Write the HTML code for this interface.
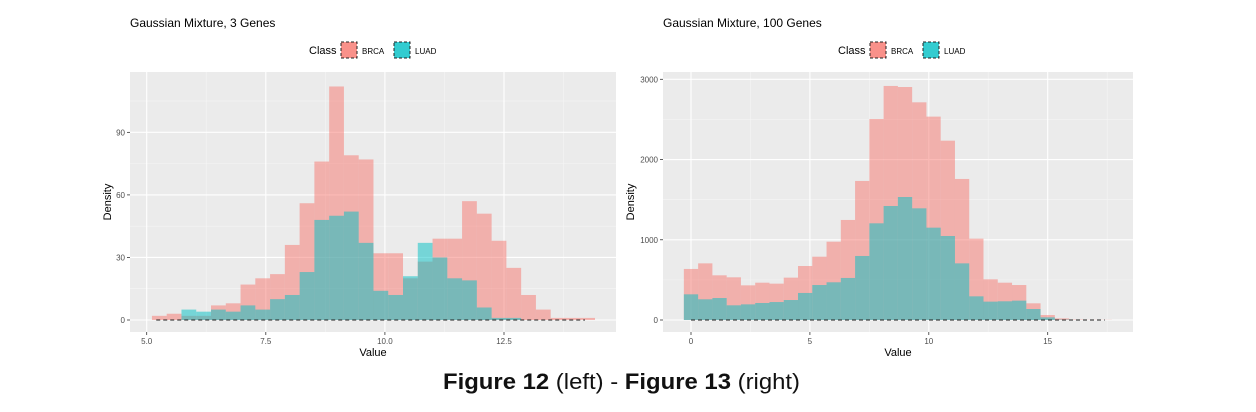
<!DOCTYPE html>
<html><head><meta charset="utf-8"><style>
body{margin:0;background:#fff;width:1256px;height:412px;overflow:hidden;font-family:"Liberation Sans",sans-serif}
svg{position:absolute;left:0;top:0}
</style></head><body>
<svg id="s" width="1256" height="412"></svg>
<script>
// Left panel data (3 genes)
const leftStart = 5.11;
const leftWidth = 0.31;
const leftBRCA = [2,3,2,2,7,8,17,20,22,36,56,76,112,79,77,32,32,20,28,39,39,57,51,38,25,12,5,1,1,1];
const leftLUAD = [0,0,5,4,5,4,7,5,10,12,23,48,50,52,37,14,12,21,37,30,20,19,6,1,1,0,0,0,0,0];
const leftXTicks = [5.0,7.5,10.0,12.5];
const leftXLabels = ["5.0","7.5","10.0","12.5"];
const leftYTicks = [0,30,60,90];
// Right panel data (100 genes)
const rightStart = -0.3;
const rightWidth = 0.6;
const rightBRCA = [636,706,557,532,432,465,453,528,673,789,976,1247,1733,2505,2917,2904,2713,2535,2235,1758,1014,507,465,436,208,62,20,5,2,2];
const rightLUAD = [320,258,274,183,195,212,224,249,337,436,470,524,798,1205,1421,1533,1392,1151,1047,706,295,229,233,241,137,33,5,0,0,0];
const rightXTicks = [0,5,10,15];
const rightXLabels = ["0","5","10","15"];
const rightYTicks = [0,1000,2000,3000];

const NS="http://www.w3.org/2000/svg";
const svg=document.getElementById('s');
function mk(tag,attrs,parent){const e=document.createElementNS(NS,tag);for(const k in attrs)e.setAttribute(k,attrs[k]);(parent||svg).appendChild(e);return e;}

function panel(cfg){
  const g=mk('g',{});
  
  
  const X=v=>cfg.x0+(v-cfg.xv0)*cfg.xs;
  const Y=v=>cfg.y0-v*cfg.ys;
  const bg=mk('rect',{x:cfg.L,y:72,width:cfg.R-cfg.L,height:260,fill:'#EBEBEB'},g);
  
  
  const xt=cfg.xt, yt=cfg.yt;
  const dx=xt[1]-xt[0], dy=yt[1]-yt[0];
  for(let v=xt[0]-dx/2; X(v)<cfg.R; v+=dx){ if(X(v)>cfg.L) mk('line',{x1:X(v),x2:X(v),y1:72,y2:332,stroke:'#F5F5F5','stroke-width':0.6},g); }
  for(let v=yt[0]+dy/2; Y(v)>72; v+=dy){ mk('line',{x1:cfg.L,x2:cfg.R,y1:Y(v),y2:Y(v),stroke:'#F5F5F5','stroke-width':0.6},g); }
  xt.forEach(v=>mk('line',{x1:X(v),x2:X(v),y1:72,y2:332,stroke:'#fff','stroke-width':1.1},g));
  yt.forEach(v=>mk('line',{x1:cfg.L,x2:cfg.R,y1:Y(v),y2:Y(v),stroke:'#fff','stroke-width':1.1},g));
  [[cfg.brca,'#F8766D','brca'],[cfg.luad,'#00BFC4','luad']].forEach(([arr,col,nm])=>{
    arr.forEach((v,i)=>{ if(v<=0) return;
      const a=cfg.start+i*cfg.w;
      const r=mk('rect',{x:X(a),y:Y(v),width:X(a+cfg.w)-X(a),height:Y(0)-Y(v),fill:col,'fill-opacity':0.5},g);
      
      
    });
  });
  const dl=mk('line',{x1:X(cfg.d0),x2:X(cfg.d1),y1:Y(0),y2:Y(0),stroke:'#222','stroke-width':1,'stroke-dasharray':'4 3'},g);
  
  
  xt.forEach((v,i)=>{
    mk('line',{x1:X(v),x2:X(v),y1:332,y2:335,stroke:'#333','stroke-width':0.8},g);
    const t=mk('text',{x:X(v),y:344,'font-size':8,fill:'#4D4D4D','text-anchor':'middle'},g);t.textContent=cfg.xl[i];
    
    
  });
  yt.forEach(v=>{
    mk('line',{x1:cfg.L-3,x2:cfg.L,y1:Y(v),y2:Y(v),stroke:'#333','stroke-width':0.8},g);
    const t=mk('text',{x:cfg.L-5,y:Y(v)+3,'font-size':8,fill:'#4D4D4D','text-anchor':'end'},g);t.textContent=v;
    
    
  });
  const xl=mk('text',{x:(cfg.L+cfg.R)/2,y:356,'font-size':11,fill:'#000','text-anchor':'middle'},g);xl.textContent='Value';
  
  
  const yl=mk('text',{x:0,y:0,'font-size':11,fill:'#000','text-anchor':'middle',transform:`translate(${cfg.yx},202) rotate(-90)`},g);yl.textContent='Density';
  
  
  const ti=mk('text',{x:cfg.tx,y:27,'font-size':12,fill:'#000'},g);ti.textContent=cfg.title;
  
  
  const o=cfg.lx;
  const lt=mk('text',{x:o,y:54,'font-size':11,fill:'#000'},g);lt.textContent='Class';
  
  
  [['BRCA','#F8766D',31],['LUAD','#00BFC4',84]].forEach(([n,c,off])=>{
    const b=mk('rect',{x:o+off+1,y:42,width:16,height:16,fill:c,'fill-opacity':0.8,stroke:'#222','stroke-dasharray':'3 2','stroke-width':1},g);
    
    
    const tt=mk('text',{x:o+off+22,y:54,'font-size':8,fill:'#000'},g);tt.textContent=n;
    
    
  });
}
panel({name:'left-chart',L:130,R:616,x0:146.7,xv0:5,xs:47.64,y0:320,ys:2.085,xt:leftXTicks,xl:leftXLabels,yt:leftYTicks,
  brca:leftBRCA,luad:leftLUAD,start:leftStart,w:leftWidth,d0:5.2,d1:14.2,yx:111,tx:130,title:'Gaussian Mixture, 3 Genes',lx:309});
panel({name:'right-chart',L:663,R:1133,x0:691,xv0:0,xs:23.78,y0:320,ys:240.7/3000,xt:rightXTicks,xl:rightXLabels,yt:rightYTicks,
  brca:rightBRCA,luad:rightLUAD,start:rightStart,w:rightWidth,d0:0,d1:17.4,yx:634,tx:663,title:'Gaussian Mixture, 100 Genes',lx:838});
const cap=mk('text',{x:443,y:389,'font-size':22,fill:'#111',textLength:357,lengthAdjust:'spacingAndGlyphs'});


cap.innerHTML='<tspan font-weight="bold">Figure 12</tspan> (left) - <tspan font-weight="bold">Figure 13</tspan> (right)';
</script>
</body></html>
